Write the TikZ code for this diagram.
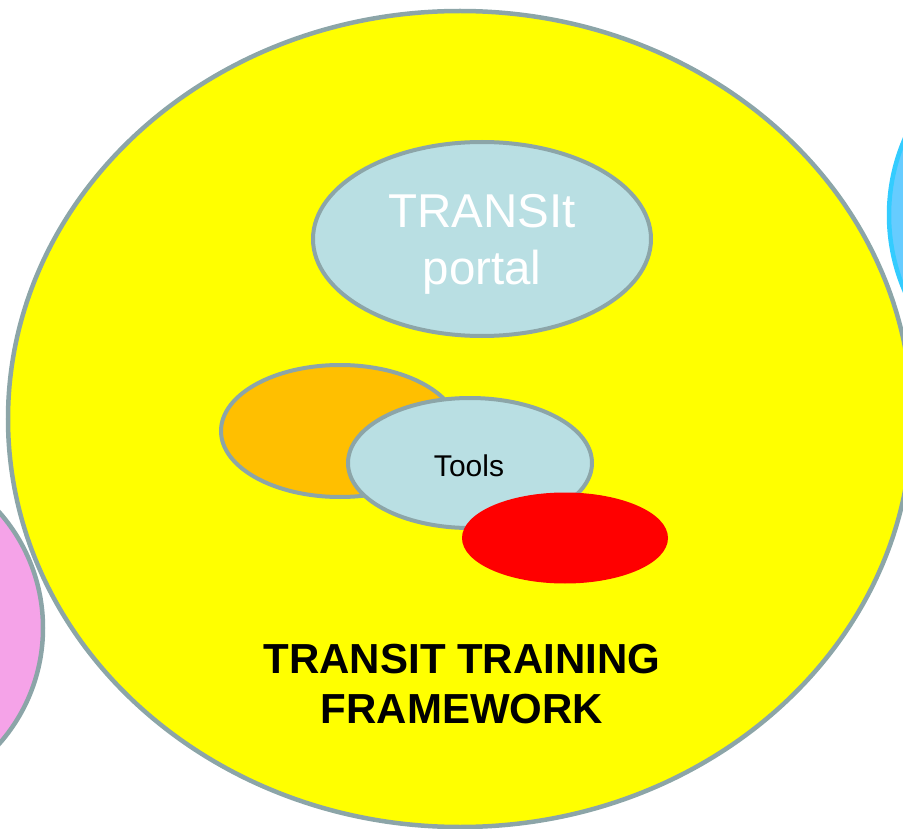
\documentclass[tikz,border=0pt]{standalone}
\usepackage{fontspec}
\setmainfont{Liberation Sans}
\definecolor{rim}{HTML}{8CA5A8}
\definecolor{frameyellow}{HTML}{FFFF00}
\definecolor{portalblue}{HTML}{B9DFE3}
\definecolor{toolorange}{HTML}{FFBF00}
\definecolor{sidepink}{HTML}{F5A3E8}
\definecolor{sideblue}{HTML}{66CCFF}
\definecolor{sidebluerim}{HTML}{33CCFF}
\begin{document}
\begin{tikzpicture}[x=1pt,y=-1pt]
    \useasboundingbox (0,0) rectangle (903,829);
    \clip (0,0) rectangle (903,829);
    % outer circles
    \draw [rim, line width=4.5pt, fill=frameyellow] (460,419) ellipse [x radius=452, y radius=408];
    \draw [rim, line width=4.5pt, fill=sidepink] (-132,628) circle (175);
    \draw [sidebluerim, line width=4.5pt, fill=sideblue] (1081,215) circle (192);
    % inner ellipses
    \draw [rim, line width=4pt, fill=portalblue] (482,239) ellipse [x radius=169, y radius=97];
    \draw [rim, line width=4pt, fill=toolorange] (340,431) ellipse [x radius=119, y radius=66];
    \draw [rim, line width=4pt, fill=portalblue] (470,463) ellipse [x radius=122, y radius=65];
    \fill [red] (565,538) ellipse [x radius=103, y radius=45.5];
    % texts
    \node [white, align=center, font=\fontsize{47.5}{57}\selectfont] (portal) at (482,244.5) {TRANSIt\\portal};
    \node [black, font=\fontsize{30}{36}\selectfont] (tools) at (469,465.5) {Tools};
    \node [black, align=center, font=\fontsize{42}{50}\selectfont\bfseries] (title) at (462,684) {TRANSIT TRAINING\\FRAMEWORK};
\end{tikzpicture}
\end{document}
